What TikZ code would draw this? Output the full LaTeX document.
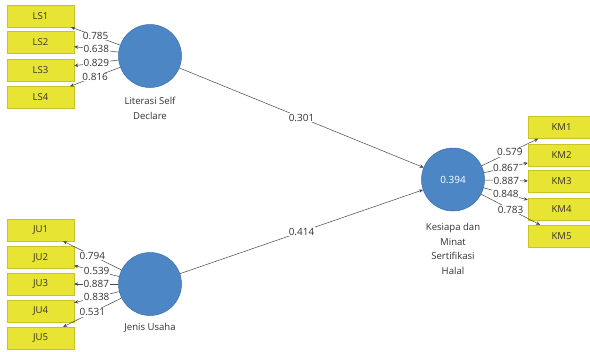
\documentclass[tikz,border=0pt]{standalone}
\usepackage{fontspec}
\setmainfont{Open Sans}
\usetikzlibrary{arrows.meta}
\definecolor{indfill}{RGB}{232,228,52}
\definecolor{inddraw}{RGB}{200,196,40}
\definecolor{latfill}{RGB}{76,134,196}
\definecolor{latdraw}{RGB}{60,110,165}
\definecolor{linkcol}{RGB}{70,70,70}
\tikzset{
  ind/.style={rectangle, fill=indfill, draw=inddraw, line width=0.4pt,
    minimum width=67bp, minimum height=22bp, inner sep=0pt,
    font=\fontsize{9.6}{10}\selectfont, text=black!80},
  lat/.style={circle, fill=latfill, draw=latdraw, line width=0.5pt,
    minimum size=63bp, inner sep=0pt, text=white, font=\fontsize{10}{12}\selectfont},
  latname/.style={align=center, font=\fontsize{9.6}{14.5}\selectfont, text=black!80},
  link/.style={draw=linkcol, line width=0.5pt, -{Stealth[length=4bp,width=3.5bp]}},
  coef/.style={fill=white, inner sep=0.6pt, font=\fontsize{10}{12}\selectfont, text=black!80}
}
\begin{document}
\begin{tikzpicture}[x=1bp,y=-1bp]
\useasboundingbox (0,0) rectangle (590,351);
\clip (0,0) rectangle (590,351);
\fill[white] (0,0) rectangle (590,351);

% latent variables
\node[lat] (ls) at (150,56) {};
\node[lat] (ju) at (150,284) {};
\node[lat] (km) at (453,179.5) {0.394};
\node[latname] (lsname) at (150,108.5) {Literasi Self\\Declare};
\node[latname] (juname) at (150,328) {Jenis Usaha};
\node[latname] (kmname) at (453,249) {Kesiapa dan\\Minat\\Sertifikasi\\Halal};

% indicators
\node[ind] (ls1) at (40.5,16) {LS1};
\node[ind] (ls2) at (40.5,42.5) {LS2};
\node[ind] (ls3) at (40.5,70) {LS3};
\node[ind] (ls4) at (40.5,97.5) {LS4};

\node[ind] (ju1) at (40.5,230) {JU1};
\node[ind] (ju2) at (40.5,257.5) {JU2};
\node[ind] (ju3) at (40.5,284) {JU3};
\node[ind] (ju4) at (40.5,311) {JU4};
\node[ind] (ju5) at (40.5,338) {JU5};

\node[ind] (km1) at (561.5,127.5) {KM1};
\node[ind] (km2) at (561.5,155.5) {KM2};
\node[ind] (km3) at (561.5,181.5) {KM3};
\node[ind] (km4) at (561.5,209) {KM4};
\node[ind] (km5) at (561.5,236) {KM5};

% outer loadings
\draw[link] (ls) -- node[coef] {0.785} (ls1);
\draw[link] (ls) -- node[coef] {0.638} (ls2);
\draw[link] (ls) -- node[coef] {0.829} (ls3);
\draw[link] (ls) -- node[coef] {0.816} (ls4);

\draw[link] (ju) -- node[coef] {0.794} (ju1);
\draw[link] (ju) -- node[coef] {0.539} (ju2);
\draw[link] (ju) -- node[coef] {0.887} (ju3);
\draw[link] (ju) -- node[coef] {0.838} (ju4);
\draw[link] (ju) -- node[coef] {0.531} (ju5);

\draw[link] (km) -- node[coef] {0.579} (km1);
\draw[link] (km) -- node[coef] {0.867} (km2);
\draw[link] (km) -- node[coef] {0.887} (km3);
\draw[link] (km) -- node[coef] {0.848} (km4);
\draw[link] (km) -- node[coef] {0.783} (km5);

% path coefficients
\draw[link] (ls) -- node[coef] {0.301} (km);
\draw[link] (ju) -- node[coef] {0.414} (km);
\end{tikzpicture}
\end{document}
